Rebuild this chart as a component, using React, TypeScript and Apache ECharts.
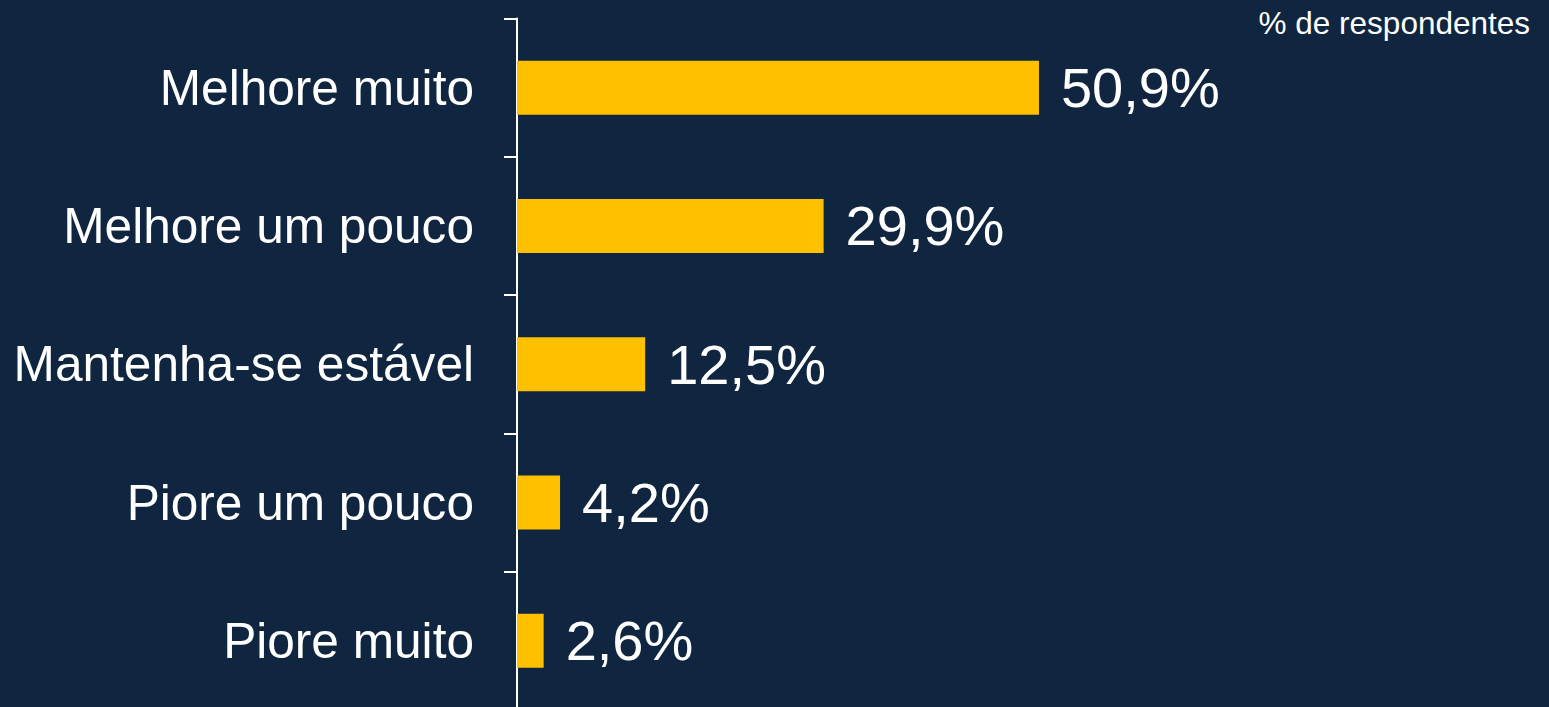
import React, { useEffect, useRef } from "react";
import * as echarts from "echarts";

const categories = ["Melhore muito", "Melhore um pouco", "Mantenha-se estável", "Piore um pouco", "Piore muito"];
const values = [50.9, 29.9, 12.5, 4.2, 2.6];
const unitNote = "% de respondentes";

export default function App() {
  const ref = useRef<HTMLDivElement>(null);
  useEffect(() => {
    if (!ref.current) return;
    const chart = echarts.init(ref.current, null, { renderer: "svg" });
    chart.setOption({
      animation: false,
      backgroundColor: "#10253F",
      textStyle: { fontFamily: "Liberation Sans, Arial, sans-serif" },
      graphic: [
        {
          type: "text",
          right: 19,
          top: 7,
          style: { text: unitNote, fill: "#FFFFFF", font: "31.5px 'Liberation Sans', Arial, sans-serif" },
        },
      ],
      grid: { left: 517, right: 6.5, top: 18.5, bottom: -3, containLabel: false, outerBoundsMode: "none" },
      xAxis: { type: "value", min: 0, max: 100, show: false },
      yAxis: {
        type: "category",
        data: categories,
        inverse: true,
        axisLine: { show: true, lineStyle: { color: "#FFFFFF", width: 2 } },
        axisTick: { show: true, length: 13, lineStyle: { color: "#FFFFFF", width: 2 } },
        axisLabel: { color: "#FFFFFF", fontSize: 49.6, margin: 43, fontFamily: "Liberation Sans, Arial, sans-serif" },
        splitLine: { show: false },
      },
      series: [
        {
          type: "bar",
          data: values,
          barWidth: 54,
          itemStyle: { color: "#FFC000" },
          label: {
            show: true,
            position: "right",
            distance: 22,
            color: "#FFFFFF",
            fontSize: 56,
            fontFamily: "Liberation Sans, Arial, sans-serif",
            formatter: (p: any) => p.value.toFixed(1).replace(".", ",") + "%",
          },
        },
      ],
    });
    return () => chart.dispose();
  }, []);
  return <div ref={ref} style={{ position: "fixed", left: 0, top: 0, width: 1549, height: 707 }} />;
}
